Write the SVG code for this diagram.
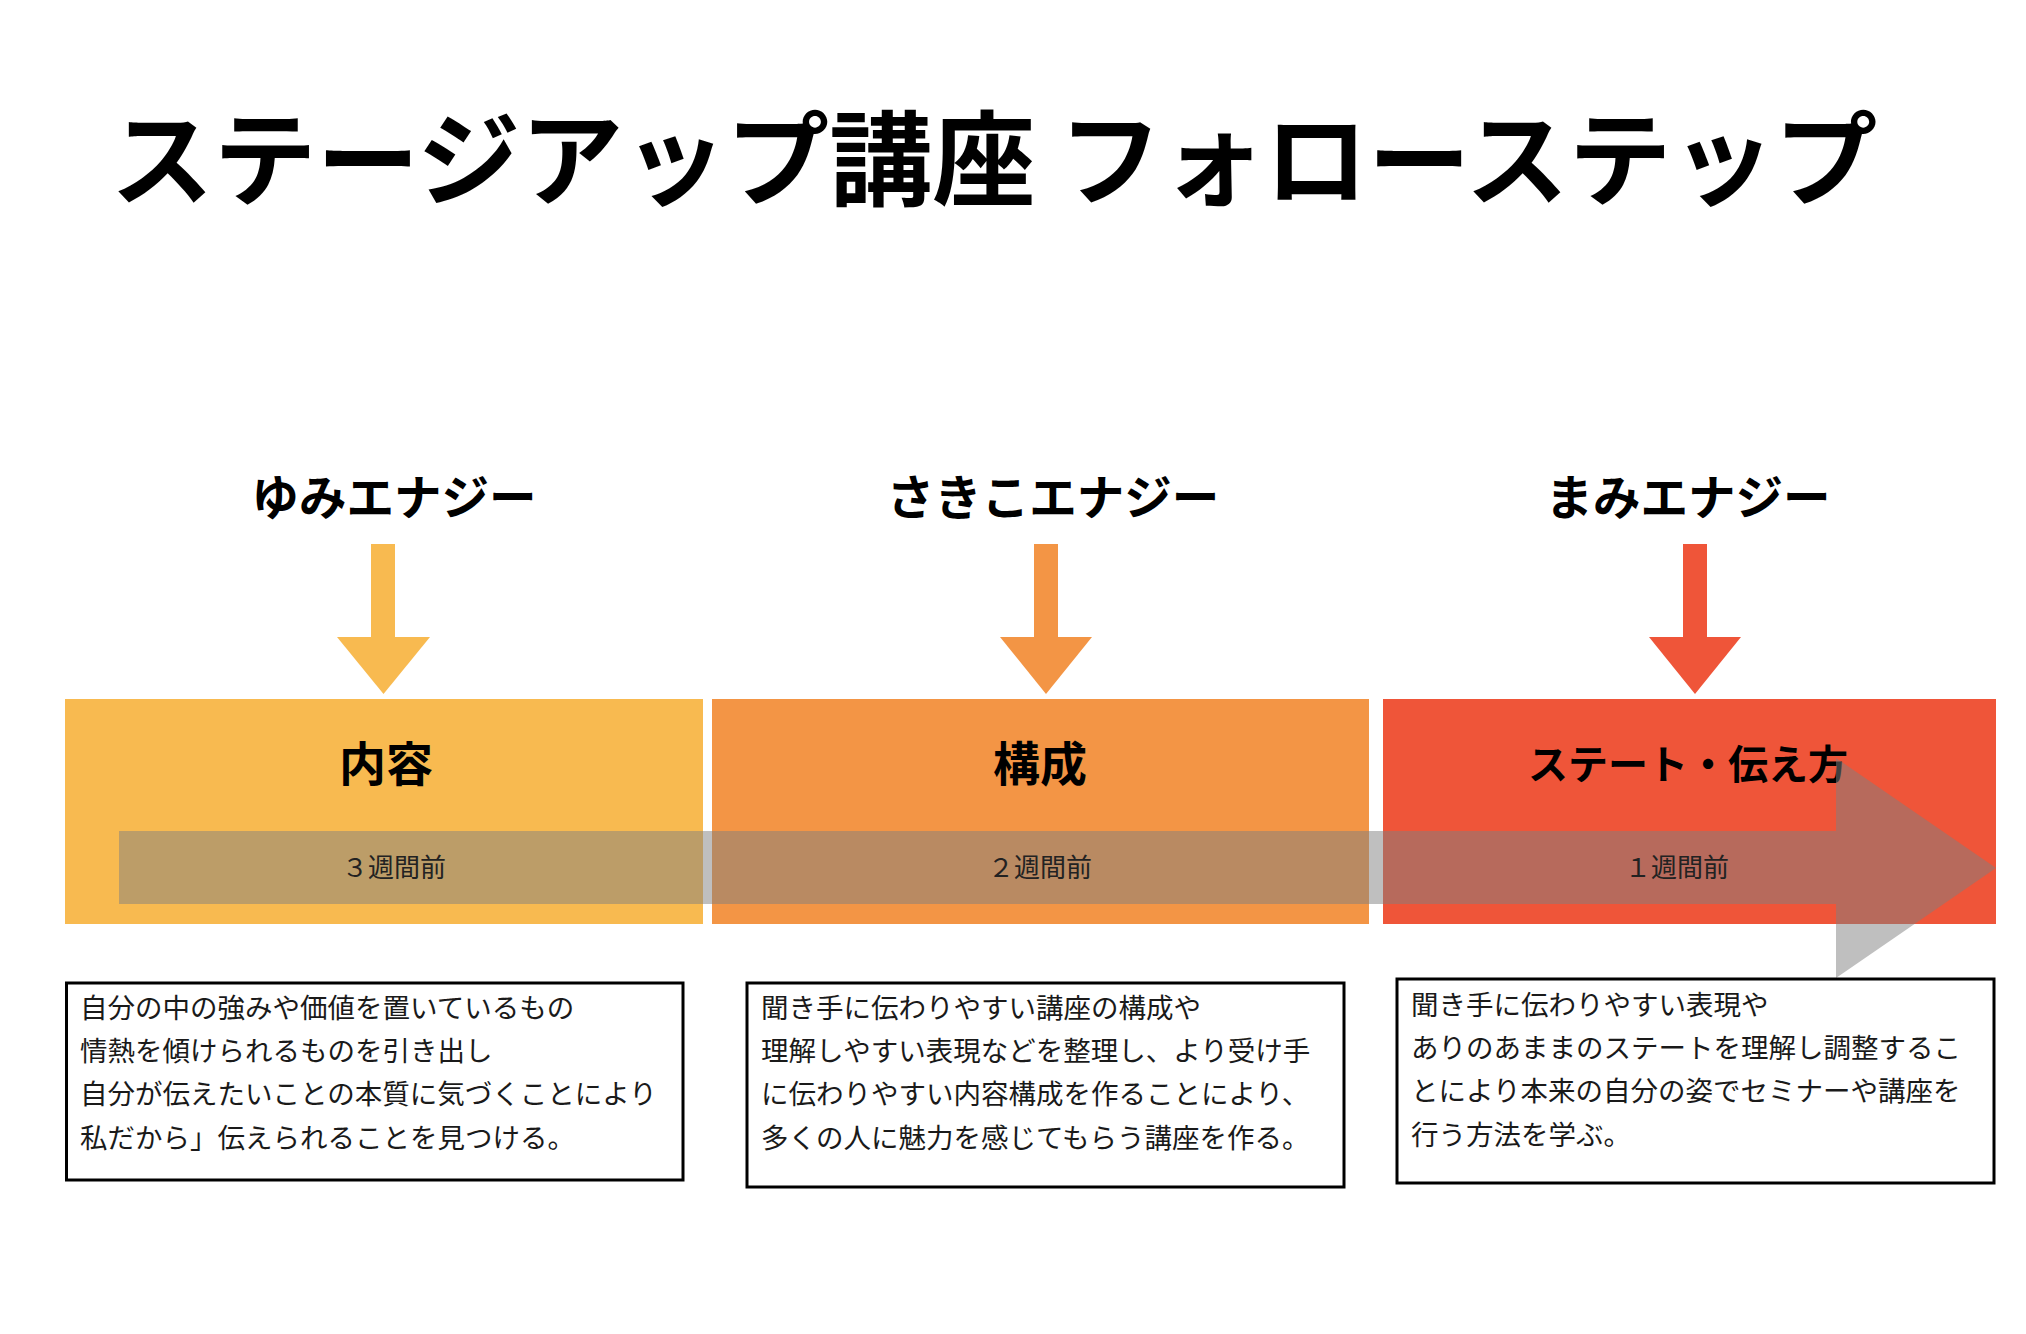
<svg xmlns="http://www.w3.org/2000/svg" width="2026" height="1334" viewBox="0 0 2026 1334">
<style>
text { font-family: "Noto Sans CJK JP", "Noto Sans CJK SC", sans-serif; }
.title { font-size: 103px; font-weight: 700; fill: #000; }
.name { font-size: 47.5px; font-weight: 700; fill: #000; text-anchor: middle; }
.stage { font-size: 47px; font-weight: 700; fill: #000; text-anchor: middle; }
.week { font-size: 26px; font-weight: 400; fill: #222; text-anchor: middle; }
.desc { font-size: 27.5px; font-weight: 400; fill: #1a1a1a; }
.dbox { fill: #fff; stroke: #000; stroke-width: 3; }
.c1 { fill: #F8BA50; }
.c2 { fill: #F39545; }
.c3 { fill: #EF5539; }
</style>
<rect x="0" y="0" width="2026" height="1334" fill="#fff"/>
<text id="title" class="title" x="994" y="198" text-anchor="middle">ステージアップ講座 フォローステップ</text>

<g id="stage1">
<rect class="c1" x="65" y="699" width="638" height="225"/>
<text class="stage" x="386" y="781">内容</text>
</g>
<g id="stage2">
<rect class="c2" x="712" y="699" width="657" height="225"/>
<text class="stage" x="1040" y="781">構成</text>
</g>
<g id="stage3">
<rect class="c3" x="1383" y="699" width="613" height="225"/>
<text class="stage" x="1688" y="779" style="font-size:40px">ステート・伝え方</text>
</g>

<g id="timeline">
<path d="M119,831 H1836 V758 L1996,868 L1836,978 V904 H119 Z" fill="#808080" fill-opacity="0.5"/>
<text class="week" x="394" y="877">３週間前</text>
<text class="week" x="1040" y="877">２週間前</text>
<text class="week" x="1677" y="877">１週間前</text>
</g>

<g id="yumi">
<text class="name" x="394" y="515">ゆみエナジー</text>
</g>
<g id="sakiko">
<text class="name" x="1053" y="515">さきこエナジー</text>
</g>
<g id="mami">
<text class="name" x="1688" y="515">まみエナジー</text>
</g>

<g id="connectors">
<g class="c1"><rect x="371" y="544" width="24" height="94"/><polygon points="337,637 430,637 383.5,694"/></g>
<g class="c2"><rect x="1034" y="544" width="24" height="94"/><polygon points="1000,637 1092,637 1046,694"/></g>
<g class="c3"><rect x="1683" y="544" width="24" height="94"/><polygon points="1649,637 1741,637 1695,694"/></g>
</g>

<g id="desc1">
<rect class="dbox" x="66.5" y="983" width="616.5" height="197"/>
<text class="desc" x="80" y="1018">自分の中の強みや価値を置いているもの</text>
<text class="desc" x="80" y="1061">情熱を傾けられるものを引き出し</text>
<text class="desc" x="80" y="1104">自分が伝えたいことの本質に気づくことにより</text>
<text class="desc" x="80" y="1148">私だから」伝えられることを見つける。</text>
</g>
<g id="desc2">
<rect class="dbox" x="747" y="983" width="597" height="204"/>
<text class="desc" x="761" y="1018">聞き手に伝わりやすい講座の構成や</text>
<text class="desc" x="761" y="1061">理解しやすい表現などを整理し、より受け手</text>
<text class="desc" x="761" y="1104">に伝わりやすい内容構成を作ることにより、</text>
<text class="desc" x="761" y="1148">多くの人に魅力を感じてもらう講座を作る。</text>
</g>
<g id="desc3">
<rect class="dbox" x="1397" y="979" width="597" height="204"/>
<text class="desc" x="1411" y="1015">聞き手に伝わりやすい表現や</text>
<text class="desc" x="1411" y="1058">ありのあままのステートを理解し調整するこ</text>
<text class="desc" x="1411" y="1101">とにより本来の自分の姿でセミナーや講座を</text>
<text class="desc" x="1411" y="1145">行う方法を学ぶ。</text>
</g>
</svg>
